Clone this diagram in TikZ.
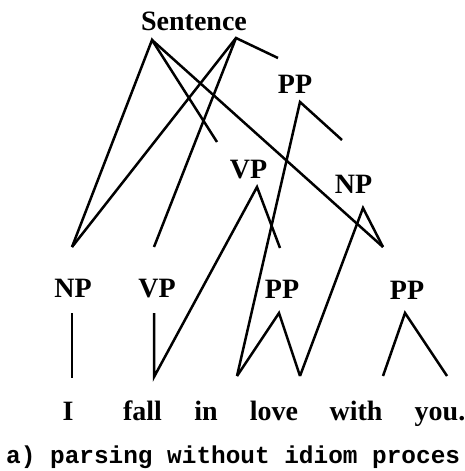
\documentclass[tikz,border=0pt]{standalone}
\usepackage{fontspec}
\setmainfont{Liberation Serif}
\newfontfamily\capfont{Liberation Mono}
\begin{document}
\begin{tikzpicture}[x=1pt,y=-1pt,
  lbl/.style={inner sep=0pt,anchor=base,font=\fontsize{28}{30}\selectfont\bfseries},
  wrd/.style={inner sep=0pt,anchor=base,font=\fontsize{28}{30}\selectfont\bfseries},
  edge/.style={line width=2.5pt,line join=miter,line cap=butt}]
\useasboundingbox (0,0) rectangle (465,471);
% labels
\node[lbl] (sent) at (194,30) {Sentence};
\node[lbl] (ppT) at (295,93) {PP};
\node[lbl] (vpM) at (248.5,178) {VP};
\node[lbl] (npM) at (353.5,193) {NP};
\node[lbl] (npL) at (73,297) {NP};
\node[lbl] (vpL) at (157,297) {VP};
\node[lbl] (ppL) at (282,298) {PP};
\node[lbl] (ppR) at (407,299) {PP};
% words
\node[wrd] (wI) at (68,420) {I};
\node[wrd] (wfall) at (142.5,420) {fall};
\node[wrd] (win) at (206,420) {in};
\node[wrd] (wlove) at (274,420) {love};
\node[wrd] (wwith) at (356,420) {with};
\node[wrd] (wyou) at (440,420) {you.};
% caption
\node[inner sep=0pt,anchor=base west,font=\capfont\fontsize{24.4}{26}\selectfont\bfseries] (cap) at (6,463) {a) parsing without idiom proces};
% apex and end coordinates
\coordinate (sL) at (152,40);
\coordinate (sR) at (236,38);
\coordinate (sRend) at (278,58);
\coordinate (sLend) at (217,142);
\coordinate (ppTa) at (300,102);
\coordinate (ppTend) at (342,140);
\coordinate (vpMa) at (257,187);
\coordinate (vpMend) at (280,248);
\coordinate (npMa) at (363,208);
\coordinate (npMend) at (383,247);
\coordinate (npLtop) at (72,247);
\coordinate (vpLtop) at (154,247);
\coordinate (npLa) at (72,313);
\coordinate (npLb) at (72,378);
\coordinate (vpLa) at (154,313);
\coordinate (vpLb) at (154,377);
\coordinate (ppLa) at (279,313);
\coordinate (loveb) at (237,376);
\coordinate (withb) at (300,376);
\coordinate (ppRa) at (405,313);
\coordinate (ppRl) at (383,376);
\coordinate (ppRr) at (447,376);
% connectors
\draw[edge] (npLtop) -- (sL) -- (sLend);
\draw[edge] (sL) -- (npMend);
\draw[edge] (npLtop) -- (sR) -- (sRend);
\draw[edge] (sR) -- (vpLtop);
\draw[edge] (loveb) -- (ppTa) -- (ppTend);
\draw[edge] (vpLa) -- (vpLb) -- (vpMa) -- (vpMend);
\draw[edge] (withb) -- (npMa) -- (npMend);
\draw[edge] (npLa) -- (npLb);
\draw[edge] (loveb) -- (ppLa) -- (withb);
\draw[edge] (ppRl) -- (ppRa) -- (ppRr);
\end{tikzpicture}
\end{document}
